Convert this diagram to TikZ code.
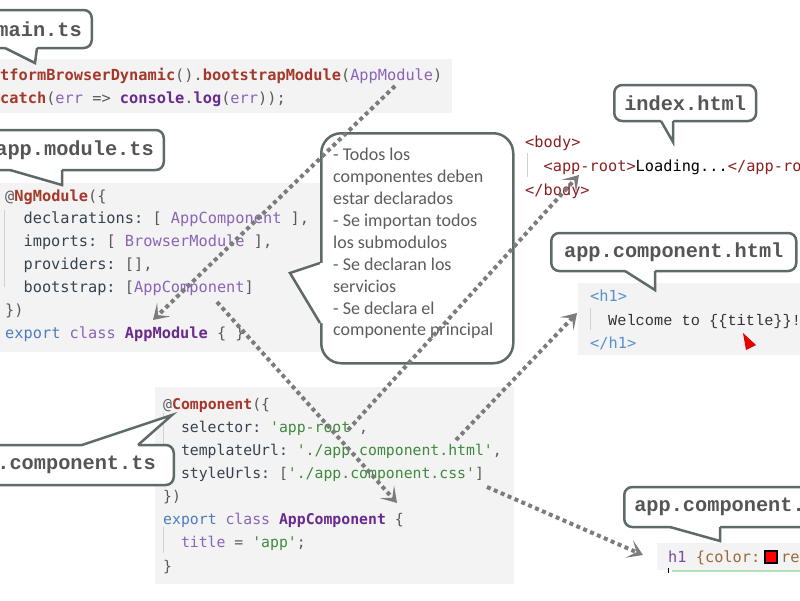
\documentclass[tikz,border=0pt]{standalone}
\usepackage{fontspec}
\setmainfont{Carlito}
\setmonofont{DejaVu Sans Mono}
\newfontfamily\labelfamily{Liberation Mono}
\newfontfamily\slabfamily{Liberation Mono}
\usetikzlibrary{arrows.meta}

\definecolor{codebg}{HTML}{F3F3F3}
\definecolor{punct}{HTML}{5A5A5A}
\definecolor{kwred}{HTML}{A5382A}
\definecolor{lpurple}{HTML}{8A64B8}
\definecolor{dpurple}{HTML}{6A2A8E}
\definecolor{kwblue}{HTML}{4A7DC0}
\definecolor{keycol}{HTML}{37424F}
\definecolor{strgreen}{HTML}{3E8A3E}
\definecolor{tagred}{HTML}{8B2020}
\definecolor{tagblue}{HTML}{5A8FD0}
\definecolor{cssbrown}{HTML}{9A6A38}
\definecolor{csspurple}{HTML}{7A4C9E}
\definecolor{rimgray}{HTML}{5E6A6A}
\definecolor{labelgray}{HTML}{555555}
\definecolor{notegray}{HTML}{5C5C5C}
\definecolor{flowgray}{HTML}{7C7C7C}

\newcommand\codesize{\ttfamily\fontsize{15.3}{18}\selectfont}
\newcommand\compsize{\ttfamily\fontsize{14.8}{18}\selectfont}

\tikzset{
  code/.style={anchor=base west, inner sep=0pt, font=\codesize},
  comp/.style={code, font=\compsize},
  guide/.style={draw=black!18, line width=1pt},
  tag/.style={draw=rimgray, line width=2.5pt, fill=white, rounded corners=8pt,
    inner xsep=10pt, minimum height=38pt, text=labelgray,
    font=\labelfamily\bfseries\fontsize{20.3}{22}\selectfont},
  tagtail/.style={draw=rimgray, line width=2.5pt},
  flow/.style={draw=flowgray, line width=4pt, dash pattern=on 4pt off 3.5pt,
    -{Stealth[length=15pt,width=19pt,inset=8pt]}},
}

\begin{document}
\begin{tikzpicture}[x=1pt,y=-1pt]
\useasboundingbox (0,0) rectangle (800,600);
\clip (0,0) rectangle (800,600);

% code panels
\fill[codebg] (0,59) rectangle (452,113);
\fill[codebg] (0,183) rectangle (333,352);
\fill[codebg] (578,283) rectangle (800,355);
\fill[codebg] (155,387) rectangle (514,584);
\fill[codebg] (657,543) rectangle (800,570);

% main.ts
\node[code] (boot) at (-27.6,80) {\textcolor{kwred}{\textbf{platformBrowserDynamic}}\textcolor{punct}{().}\textcolor{kwred}{\textbf{bootstrapModule}}\textcolor{punct}{(}\textcolor{lpurple}{AppModule}\textcolor{punct}{)}};
\node[code] (catch) at (-9.2,103) {\textcolor{punct}{.}\textcolor{kwred}{\textbf{catch}}\textcolor{punct}{(}\textcolor{lpurple}{err} \textcolor{punct}{=>} \textcolor{dpurple}{\textbf{console}}\textcolor{punct}{.}\textcolor{dpurple}{\textbf{log}}\textcolor{punct}{(}\textcolor{lpurple}{err}\textcolor{punct}{));}};

% app.module.ts
\draw[guide] (4,210) -- (4,287);
\node[code] (ngmod) at (5,201) {\textcolor{punct}{@}\textcolor{kwred}{\textbf{NgModule}}\textcolor{punct}{(\{}};
\node[code] (decl) at (23.4,223.8) {\textcolor{keycol}{declarations:} \textcolor{punct}{[} \textcolor{lpurple}{AppComponent} \textcolor{punct}{],}};
\node[code] (imps) at (23.4,246.7) {\textcolor{keycol}{imports:} \textcolor{punct}{[} \textcolor{lpurple}{BrowserModule} \textcolor{punct}{],}};
\node[code] (provs) at (23.4,269.5) {\textcolor{keycol}{providers:} \textcolor{punct}{[],}};
\node[code] (boots) at (23.4,292.3) {\textcolor{keycol}{bootstrap:} \textcolor{punct}{[}\textcolor{lpurple}{AppComponent}\textcolor{punct}{]}};
\node[code] (modend) at (5,315.2) {\textcolor{punct}{\})}};
\node[code] (modcls) at (5,338) {\textcolor{kwblue}{export} \textcolor{lpurple}{class} \textcolor{dpurple}{\textbf{AppModule}} \textcolor{punct}{\{} \textcolor{punct}{\}}};

% index.html
\draw[guide] (527,153) -- (527,177);
\node[code] (bodyopen) at (525,147) {\textcolor{tagred}{<body>}};
\node[code] (approot) at (543.4,171) {\textcolor{tagred}{<app-root>}Loading...\textcolor{tagred}{</app-root>}};
\node[code] (bodyclose) at (525,195) {\textcolor{tagred}{</body>}};

% app.component.html
\draw[guide] (590,308) -- (590,330);
\node[code] (h1open) at (590,301) {\textcolor{tagblue}{<h1>}};
\node[code, font=\slabfamily\fontsize{15.3}{18}\selectfont] (welcome) at (608,325) {\textcolor{black!80}{Welcome to \{\{title\}\}!}};
\node[code] (h1close) at (590,348) {\textcolor{tagblue}{</h1>}};
\fill[red!90!black] (743,333) -- (756,345) -- (746,350) -- cycle;

% app.component.ts
\draw[guide] (163,413) -- (163,480);
\draw[guide] (163,527) -- (163,553);
\node[comp] (compdec) at (163,409) {\textcolor{punct}{@}\textcolor{kwred}{\textbf{Component}}\textcolor{punct}{(\{}};
\node[comp] (selector) at (180.8,432.2) {\textcolor{keycol}{selector:} \textcolor{strgreen}{'app-root'}\textcolor{punct}{,}};
\node[comp] (tplurl) at (180.8,455.3) {\textcolor{keycol}{templateUrl:} \textcolor{strgreen}{'./app.component.html'}\textcolor{punct}{,}};
\node[comp] (styurl) at (180.8,478.5) {\textcolor{keycol}{styleUrls:} \textcolor{punct}{[}\textcolor{strgreen}{'./app.component.css'}\textcolor{punct}{]}};
\node[comp] (compend) at (163,501.6) {\textcolor{punct}{\})}};
\node[comp] (compcls) at (163,524.8) {\textcolor{kwblue}{export} \textcolor{lpurple}{class} \textcolor{dpurple}{\textbf{AppComponent}} \textcolor{punct}{\{}};
\node[comp] (title) at (180.8,547.9) {\textcolor{lpurple}{title} \textcolor{punct}{=} \textcolor{strgreen}{'app'}\textcolor{punct}{;}};
\node[comp] (classend) at (163,571) {\textcolor{punct}{\}}};

% app.component.css
\node[code] (cssrule) at (668,562) {\textcolor{csspurple}{h1} \textcolor{cssbrown}{\{color:}};
\filldraw[fill=red, draw=black, line width=1.3pt] (765,551) rectangle (777,563);
\node[code] (cssval) at (781,562) {\textcolor{cssbrown}{red;\}}};
\draw[green!60!black!30, line width=1.5pt] (672,571) -- (800,571);
\draw[black, line width=1pt] (668,568) -- (668,573);

% file labels
\node[tag, anchor=east] (mainlbl) at (93,29) {main.ts};
\fill[white] (5,45) -- (5,48) -- (35,63) -- (37,48) -- (37,45) -- cycle;
\draw[tagtail] (5,48) -- (35,63) -- (37,48);

\node[tag, anchor=east, minimum height=40pt] (modlbl) at (165,150) {app.module.ts};
\fill[white] (10,167) -- (10,170) -- (62,185) -- (62,170) -- (62,167) -- cycle;
\draw[tagtail] (10,170) -- (62,185) -- (62,170);

\node[tag, anchor=west, minimum height=36pt] (indexlbl) at (613,103) {index.html};
\fill[white] (661,118) -- (661,121) -- (673,142) -- (673,121) -- (673,118) -- cycle;
\draw[tagtail] (661,121) -- (673,142) -- (673,121);

\node[tag, anchor=west, minimum width=245pt] (htmllbl) at (550,252) {app.component.html};
\fill[white] (625,268) -- (625,271) -- (655,290) -- (655,271) -- (655,268) -- cycle;
\draw[tagtail] (625,271) -- (655,290) -- (655,271);

\node[tag, anchor=east, minimum height=40pt, inner xsep=18pt] (tslbl) at (175,465) {app.component.ts};
\fill[white] (82,448) -- (82,445) -- (172,415) -- (138,445) -- (138,448) -- cycle;
\draw[tagtail] (82,445) -- (172,415) -- (138,445);

\node[tag, anchor=west, minimum height=40pt] (csslbl) at (623,507) {app.component.css};
\fill[white] (670,524) -- (670,527) -- (720,541) -- (720,527) -- (720,524) -- cycle;
\draw[tagtail] (670,527) -- (720,541) -- (720,527);

% note bubble
\node[draw=rimgray, line width=2.5pt, fill=white, rounded corners=20pt,
  minimum width=192pt, minimum height=230pt, anchor=north west] (note) at (320,132) {};
\fill[white] (324,263) -- (320,263) -- (290,273) -- (320,323) -- (324,323) -- cycle;
\draw[tagtail] (320,263) -- (290,273) -- (320,323);
\node[anchor=north west, inner sep=0pt, align=left, text=notegray,
  font=\fontsize{18}{21.9}\selectfont] (notetext) at (333,148)
  {- Todos los\\componentes deben\\estar declarados\\- Se importan todos\\los submodulos\\- Se declaran los\\servicios\\- Se declara el\\componente principal};

% dotted links
\coordinate (bootref) at (395,86);
\coordinate (modref) at (153,320);
\coordinate (bootsref) at (217,302);
\coordinate (compref) at (397,503);
\coordinate (selref) at (348,430);
\coordinate (rootref) at (579,175);
\coordinate (tplref) at (456,440);
\coordinate (h1ref) at (577,313);
\coordinate (styref) at (487,487);
\coordinate (cssref) at (643,555);
\draw[flow] (bootref) -- (modref);
\draw[flow] (bootsref) -- (compref);
\draw[flow] (selref) -- (rootref);
\draw[flow] (tplref) -- (h1ref);
\draw[flow] (styref) -- (cssref);
\end{tikzpicture}
\end{document}
